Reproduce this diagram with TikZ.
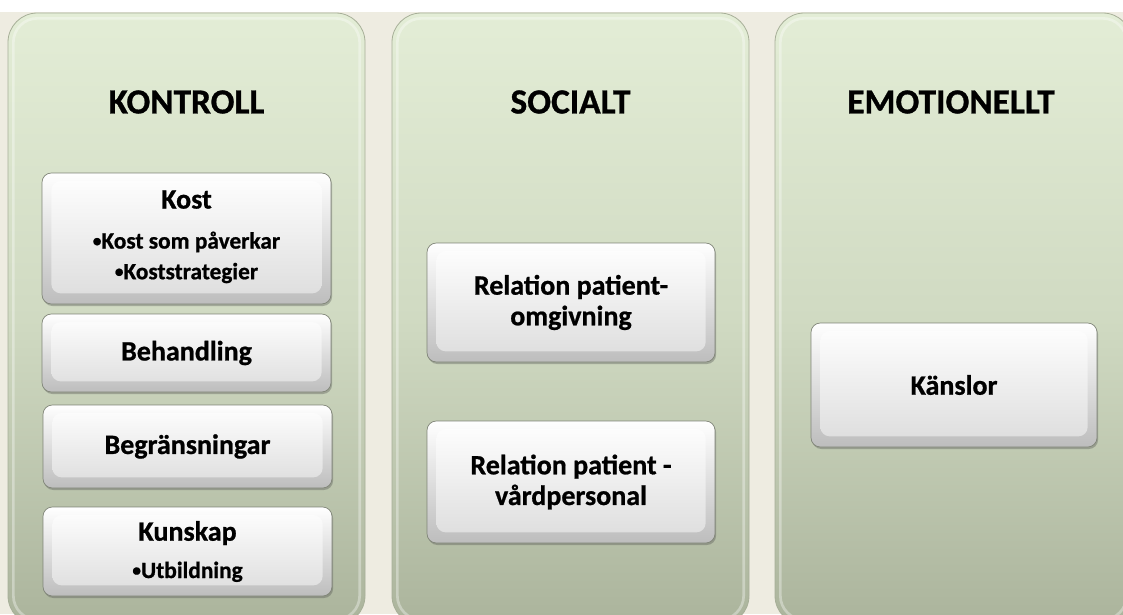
\documentclass[tikz,border=0pt]{standalone}
\usepackage{fontspec}
\setmainfont{Carlito}[BoldFeatures={FakeBold=0.8}]
\usetikzlibrary{shadows}

\definecolor{bgtan}{HTML}{EEECE1}
\definecolor{coltop}{HTML}{E3EDD6}
\definecolor{colmid}{HTML}{D0DAC2}
\definecolor{colbot}{HTML}{ABB49C}
\definecolor{coledge}{HTML}{A7AF98}
\definecolor{btnedge}{HTML}{7F8477}
\definecolor{facebot}{HTML}{DCDCDC}
\definecolor{rimbot}{HTML}{BDBDBD}

% smaller type for the bullet lines, with a small raised dot
\newcommand\subline{\fontsize{17.5}{22}\selectfont}
\newcommand\dotmark{{\fontsize{13}{13}\selectfont\raisebox{0.12em}{•}}}

\begin{document}
\begin{tikzpicture}[x=0.75pt,y=-0.75pt,
  column/.style={rounded corners=22pt, draw=coledge, line width=0.6pt,
    top color=coltop, bottom color=colbot, middle color=colmid, inner sep=0pt,
    path picture={\draw[white,opacity=0.35,line width=2pt,rounded corners=18pt]
      ([shift={(4pt,-4pt)}]path picture bounding box.north west) rectangle
      ([shift={(-4pt,4pt)}]path picture bounding box.south east);}},
  btn/.style={rounded corners=7pt, draw=btnedge, line width=0.5pt,
    top color=white, bottom color=rimbot, inner sep=0pt, align=center,
    font=\bfseries\fontsize{21}{23}\selectfont,
    drop shadow={shadow xshift=0.8pt, shadow yshift=-1.5pt, opacity=0.35, fill=black!70},
    path picture={\shade[top color=white, bottom color=facebot]
      ([shift={(7pt,-6pt)}]path picture bounding box.north west) rectangle
      ([shift={(-7pt,8pt)}]path picture bounding box.south east);}},
  title/.style={font=\bfseries\fontsize{26.5}{30}\selectfont}]

% page background
\useasboundingbox (0,0) rectangle (1123,614);
\clip (0,0) rectangle (1123,614);
\fill[bgtan] (0,0) rectangle (1123,614);
\fill[white] (0,0) rectangle (1123,12);

% the three columns
\node[column, minimum width=357*0.75pt, minimum height=612*0.75pt] (c1) at (186.5,319) {};
\node[column, minimum width=357*0.75pt, minimum height=612*0.75pt] (c2) at (570.5,319) {};
\node[column, minimum width=357*0.75pt, minimum height=612*0.75pt] (c3) at (953.5,319) {};

% column headings
\node[title] (t1) at (186.5,102) {KONTROLL};
\node[title] (t2) at (570.5,102) {SOCIALT};
\node[title] (t3) at (951,102) {EMOTIONELLT};

% KONTROLL
\node[btn, minimum width=289*0.75pt, minimum height=131*0.75pt] (kost) at (186.5,238.5)
  {Kost\\[7pt]\subline \dotmark Kost som påverkar\\\subline \dotmark Koststrategier\\[-17.5pt]};
\node[btn, minimum width=289*0.75pt, minimum height=78*0.75pt] (beh) at (186.5,353)
  {Behandling};
\node[btn, minimum width=289*0.75pt, minimum height=83*0.75pt] (begr) at (187.5,446.5)
  {Begränsningar};
\node[btn, minimum width=289*0.75pt, minimum height=89*0.75pt] (kun) at (187.5,551.5)
  {Kunskap\\[5pt]\subline \dotmark Utbildning};

% SOCIALT
\node[btn, minimum width=288*0.75pt, minimum height=119*0.75pt] (omg) at (571,302.5)
  {Relation patient-\\omgivning};
\node[btn, minimum width=288*0.75pt, minimum height=122*0.75pt] (vard) at (571,482)
  {Relation patient -\\vårdpersonal};

% EMOTIONELLT
\node[btn, minimum width=286*0.75pt, minimum height=124*0.75pt] (kansl) at (954,385)
  {Känslor};
\end{tikzpicture}
\end{document}
